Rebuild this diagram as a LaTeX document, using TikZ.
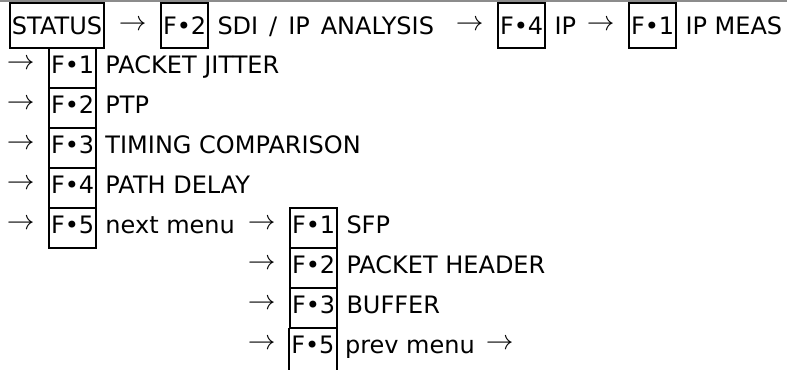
\documentclass[tikz,border=0pt]{standalone}
\usepackage{fontspec}
\setmainfont{DejaVu Sans}
\usetikzlibrary{positioning}
\newcommand{\menuarrow}{\scalebox{1.2}{$\rightarrow$}}

\begin{document}
\begin{tikzpicture}[
	x=0.75pt, y=-0.75pt,
	every node/.style={font=\fontsize{18}{22}\selectfont, inner sep=0pt, text height=13.1pt, text depth=4.5pt},
	fkey/.style={draw=black, line width=1.5pt, minimum width=33.75pt, minimum height=30pt, inner xsep=1.5pt},
	fopen/.style={minimum width=33.75pt, minimum height=30pt, inner xsep=1.5pt},
	lbl/.style={anchor=west},
	arr/.style={yshift=3pt}
]
\useasboundingbox (0,0) rectangle (787,370);
\clip (0,0) rectangle (787,370);

% status line
\draw[gray!90, line width=1.5pt] (0,1.5) -- (787,1.5);

% top row
\begin{scope}[every node/.append style={text depth=0pt}]
\node[fkey, minimum height=33.75pt, anchor=west] (status) at (9,25.5) {STATUS};
\node[fkey, minimum height=33.75pt, anchor=west] (sdi) at (160,25.5) {F•2};
\node[lbl, right=6pt of sdi] (sdilbl) {SDI\hspace{2.5pt} /\hspace{2.5pt} IP\hspace{2.5pt} ANALYSIS};
\node[arr, left=10pt of sdi] (a1) {\menuarrow};
\node[fkey, minimum height=33.75pt, anchor=west] (ip) at (497,25.5) {F•4};
\node[lbl, right=6pt of ip] (iplbl) {IP};
\node[arr, left=10pt of ip] (a2) {\menuarrow};
\node[fkey, minimum height=33.75pt, anchor=west] (meas) at (628,25.5) {F•1};
\node[lbl, right=6pt of meas] (measlbl) {IP MEAS};
\node[arr, left=10pt of meas] (a3) {\menuarrow};
\end{scope}

% first menu
\node[fkey, anchor=west] (jit) at (48,68) {F•1};
\node[lbl, right=6pt of jit] (jitlbl) {PACKET JITTER};
\node[arr, left=10pt of jit] (a4) {\menuarrow};
\node[fkey, anchor=west] (ptp) at (48,108) {F•2};
\node[lbl, right=6pt of ptp] (ptplbl) {PTP};
\node[arr, left=10pt of ptp] (a5) {\menuarrow};
\node[fkey, anchor=west] (tim) at (48,148) {F•3};
\node[lbl, right=6pt of tim] (timlbl) {TIMING COMPARISON};
\node[arr, left=10pt of tim] (a6) {\menuarrow};
\node[fkey, anchor=west] (path) at (48,188) {F•4};
\node[lbl, right=6pt of path] (pathlbl) {PATH DELAY};
\node[arr, left=10pt of path] (a7) {\menuarrow};
\node[fkey, anchor=west] (next) at (48,228) {F•5};
\node[lbl, right=6pt of next] (nextlbl) {next menu};
\node[arr, left=10pt of next] (a8) {\menuarrow};

% second menu
\node[fkey, anchor=west] (sfp) at (289,228) {F•1};
\node[lbl, right=6pt of sfp] (sfplbl) {SFP};
\node[arr, left=10pt of sfp] (a9) {\menuarrow};
\node[fkey, anchor=west] (hdr) at (289,268) {F•2};
\node[lbl, right=6pt of hdr] (hdrlbl) {PACKET HEADER};
\node[arr, left=10pt of hdr] (a10) {\menuarrow};
\node[fkey, anchor=west] (buf) at (289,308) {F•3};
\node[lbl, right=6pt of buf] (buflbl) {BUFFER};
\node[arr, left=10pt of buf] (a11) {\menuarrow};
\node[fopen, anchor=west] (prev) at (289,348) {F•5};
\node[lbl, right=6pt of prev] (prevlbl) {prev menu};
\node[arr, left=10pt of prev] (a12) {\menuarrow};
\node[arr, right=8pt of prevlbl] (a13) {\menuarrow};

% box cut off at the bottom
\draw[line width=1.5pt] (prev.north west) -- ++(0,60);
\draw[line width=1.5pt] (prev.north east) -- ++(0,60);

\end{tikzpicture}
\end{document}
